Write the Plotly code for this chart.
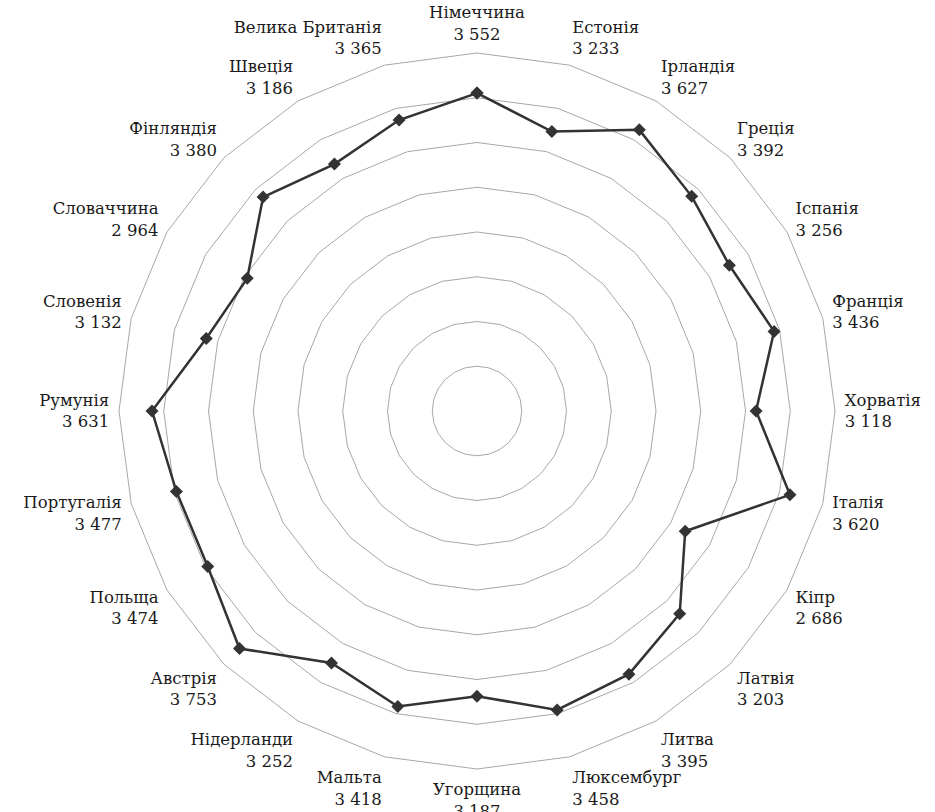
import plotly.graph_objects as go

countries = ["Німеччина", "Естонія", "Ірландія", "Греція", "Іспанія", "Франція",
             "Хорватія", "Італія", "Кіпр", "Латвія", "Литва", "Люксембург",
             "Угорщина", "Мальта", "Нідерланди", "Австрія", "Польща", "Португалія",
             "Румунія", "Словенія", "Словаччина", "Фінляндія", "Швеція", "Велика Британія"]
values = [3552, 3233, 3627, 3392, 3256, 3436,
          3118, 3620, 2686, 3203, 3395, 3458,
          3187, 3418, 3252, 3753, 3474, 3477,
          3631, 3132, 2964, 3380, 3186, 3365]
value_labels = ["3 552", "3 233", "3 627", "3 392", "3 256", "3 436",
                "3 118", "3 620", "2 686", "3 203", "3 395", "3 458",
                "3 187", "3 418", "3 252", "3 753", "3 474", "3 477",
                "3 631", "3 132", "2 964", "3 380", "3 186", "3 365"]
radial_range = [0, 4000]
radial_step = 500

ticktext = [f"{c}<br>{v}" for c, v in zip(countries, value_labels)]
serif = "DejaVu Serif"

fig = go.Figure()
fig.add_trace(go.Scatterpolar(
    r=values + values[:1],
    theta=countries + countries[:1],
    mode="lines+markers",
    line=dict(color="#333333", width=2.5),
    marker=dict(symbol="diamond", size=10, color="#333333"),
    showlegend=False,
))

fig.update_layout(
    width=935, height=812,
    margin=dict(l=119, r=100, t=53, b=43),
    paper_bgcolor="white",
    plot_bgcolor="white",
    font=dict(family=serif, size=16, color="#1a1a1a"),
    polar=dict(
        bgcolor="white",
        gridshape="linear",
        domain=dict(x=[0, 1], y=[0, 1]),
        radialaxis=dict(
            range=radial_range, dtick=radial_step, showticklabels=False,
            ticks="", showline=False, gridcolor="#a8a8a8", gridwidth=1,
        ),
        angularaxis=dict(
            direction="clockwise", rotation=90,
            ticks="outside", ticklen=6, tickcolor="rgba(0,0,0,0)",
            tickvals=countries, ticktext=ticktext,
            showgrid=False, showline=True, linecolor="#a8a8a8", linewidth=1,
            tickfont=dict(size=16.5, family=serif, color="#1a1a1a"),
        ),
    ),
)

fig.write_html("out.html", config={"displayModeBar": False},
               post_script="document.body.style.margin='0';")
